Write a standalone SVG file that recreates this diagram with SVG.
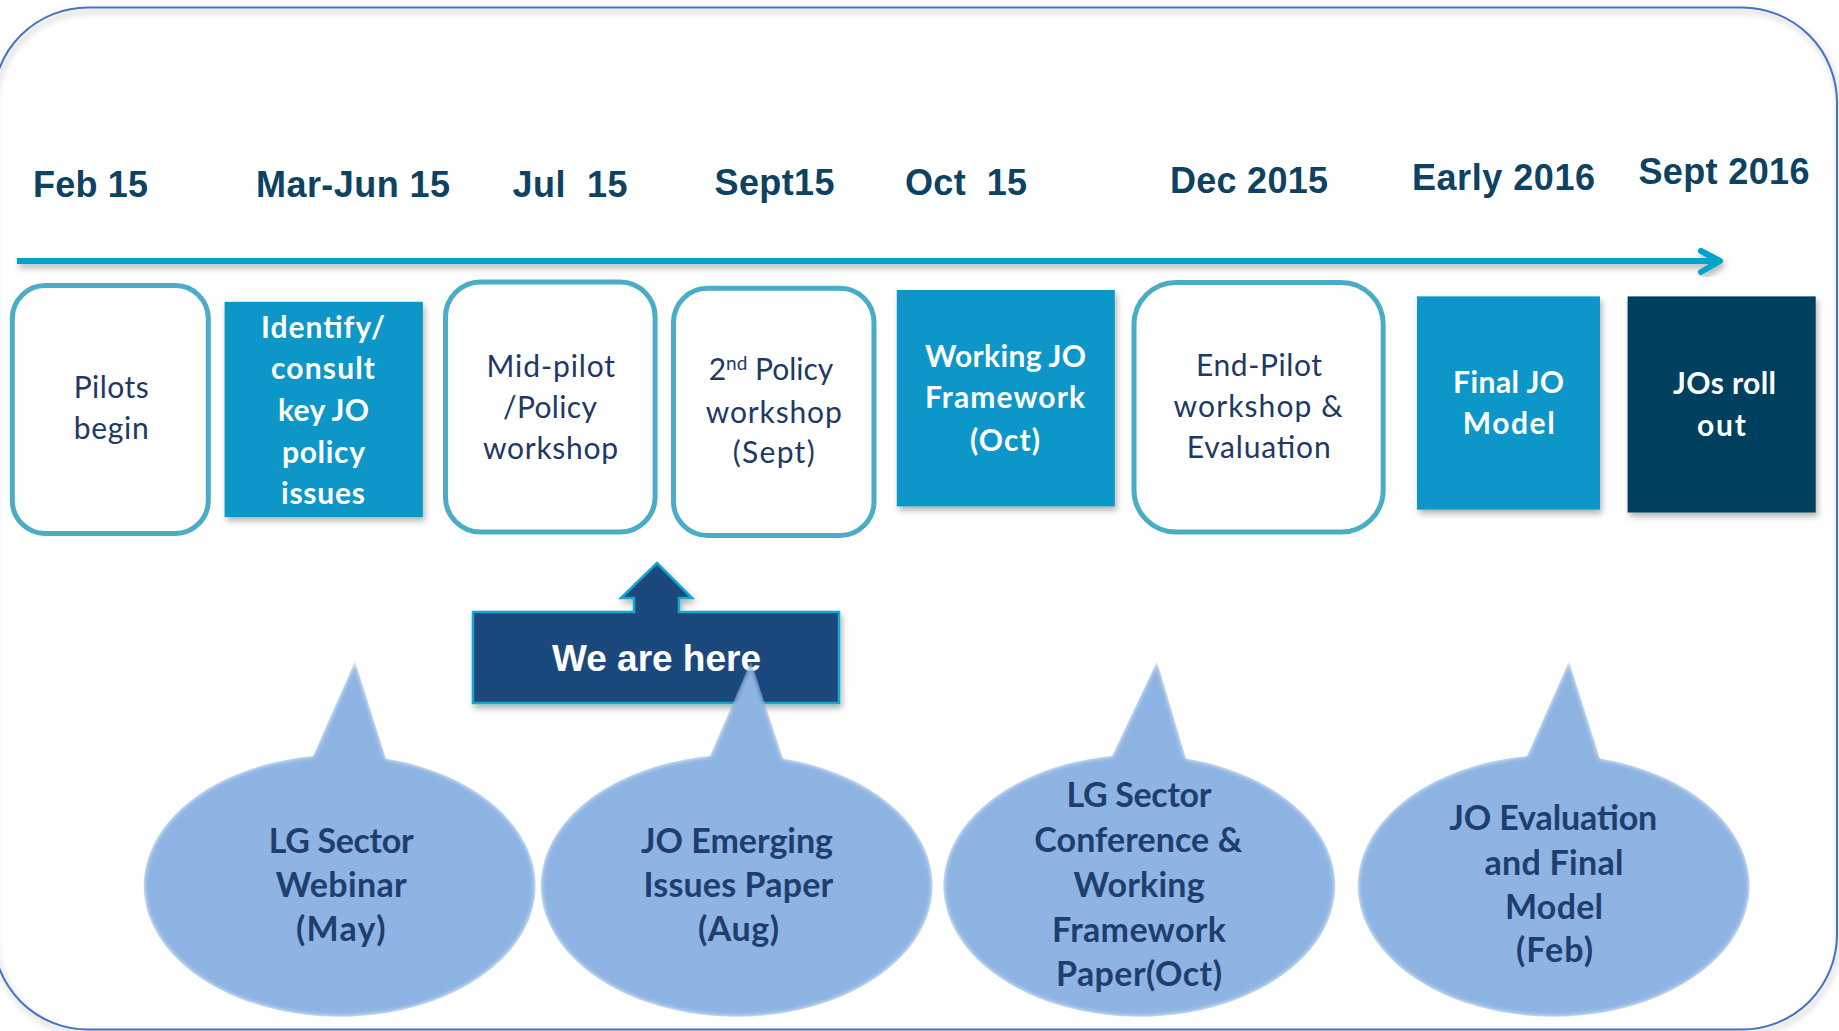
<svg xmlns="http://www.w3.org/2000/svg" width="1839" height="1031" viewBox="0 0 1839 1031">
<style>
.date{font-family:"Liberation Sans",Arial,sans-serif;font-weight:bold;font-size:36px;fill:#0D4263;white-space:pre}
.box{fill:#fff;stroke:#4BACC6;stroke-width:5}
.fill{fill:#0897C8}
.dark{fill:#02415F}
.t{font-family:Lato,"Open Sans",sans-serif;font-size:30px;fill:#203864}
.tw{font-family:Lato,"Open Sans",sans-serif;font-size:30px;font-weight:bold;fill:#fff}
.bt{font-family:Lato,"Open Sans",sans-serif;font-size:34px;font-weight:bold;fill:#1E3E6E}
.bub{fill:#8EB4E3}
</style>
<defs>
<filter id="sh" x="-10%" y="-10%" width="125%" height="130%">
<feDropShadow dx="2" dy="4" stdDeviation="3" flood-color="#000" flood-opacity="0.3"/>
</filter>
<filter id="soft" x="-5%" y="-5%" width="110%" height="110%">
<feGaussianBlur in="SourceAlpha" stdDeviation="2.5" result="b"/>
<feComposite in="SourceGraphic" in2="b" operator="in"/>
</filter>
</defs>

<rect id="frame" x="-7" y="7.5" width="1844" height="1022" rx="95" ry="95" fill="none" stroke="#4472C4" stroke-width="2" filter="url(#sh)"/>

<g id="dates">
<text class="date" x="33" y="197" textLength="115">Feb 15</text>
<text class="date" x="256" y="197" textLength="194">Mar-Jun 15</text>
<text class="date" x="512.5" y="197" textLength="115" xml:space="preserve">Jul  15</text>
<text class="date" x="714.5" y="195" textLength="120">Sept15</text>
<text class="date" x="905" y="195" textLength="122" xml:space="preserve">Oct  15</text>
<text class="date" x="1170" y="193" textLength="158">Dec 2015</text>
<text class="date" x="1412" y="189.5" textLength="183">Early 2016</text>
<text class="date" x="1638.5" y="184" textLength="171">Sept 2016</text>
</g>

<g id="connectors" filter="url(#sh)" stroke="#05A3C9" stroke-width="6" fill="none" stroke-linecap="round" stroke-linejoin="round">
<line x1="17" y1="261" x2="1717" y2="261" stroke-linecap="butt"/>
<polyline points="1701,251 1720,261 1701,272"/>
</g>

<g id="n1">
<rect class="box" x="12.3" y="285.5" width="196" height="248" rx="33"/>
<text class="t" x="73.7" y="398" textLength="75">Pilots</text>
<text class="t" x="73.7" y="439" textLength="75">begin</text>
</g>

<g id="n2">
<rect class="fill" x="224.6" y="301.8" width="198.2" height="215.2" filter="url(#sh)"/>
<text class="tw" x="261" y="337.5" textLength="124">Identify/</text>
<text class="tw" x="271" y="379" textLength="104">consult</text>
<text class="tw" x="278" y="420.7" textLength="91">key JO</text>
<text class="tw" x="282" y="462.5" textLength="83">policy</text>
<text class="tw" x="281" y="503.6" textLength="84">issues</text>
</g>

<g id="n3">
<rect class="box" x="445.5" y="282" width="209.6" height="250" rx="35"/>
<text class="t" x="486.6" y="377" textLength="128.5">Mid-pilot</text>
<text class="t" x="503" y="418" textLength="94">/Policy</text>
<text class="t" x="483" y="459" textLength="135">workshop</text>
</g>

<g id="n4">
<rect class="box" x="673.5" y="288.2" width="200.5" height="247.3" rx="34"/>
<text class="t" x="708.7" y="380">2<tspan font-size="19" dy="-10">nd</tspan><tspan dy="10"> Policy</tspan></text>
<text class="t" x="705.8" y="423" textLength="136">workshop</text>
<text class="t" x="732.7" y="462.5" textLength="82">(Sept)</text>
</g>

<g id="n5">
<rect class="fill" x="896.8" y="290" width="218" height="216.4" filter="url(#sh)"/>
<text class="tw" x="925" y="367" textLength="161">Working JO</text>
<text class="tw" x="925" y="408" textLength="160">Framework</text>
<text class="tw" x="970" y="450.7" textLength="70">(Oct)</text>
</g>

<g id="n6">
<rect class="box" x="1134" y="282.5" width="249.2" height="249.6" rx="42"/>
<text class="t" x="1196" y="375.7" textLength="126">End-Pilot</text>
<text class="t" x="1173.6" y="417" textLength="169">workshop &amp;</text>
<text class="t" x="1186.7" y="458" textLength="144">Evaluation</text>
</g>

<g id="n7">
<rect class="fill" x="1417" y="296.4" width="183" height="213.2" filter="url(#sh)"/>
<text class="tw" x="1453" y="393" textLength="111">Final JO</text>
<text class="tw" x="1462.7" y="434" textLength="92">Model</text>
</g>

<g id="n8">
<rect class="dark" x="1627.6" y="296.4" width="188.1" height="216.1" filter="url(#sh)"/>
<text class="tw" x="1673" y="394" textLength="103">JOs roll</text>
<text class="tw" x="1697" y="435.7" textLength="49">out</text>
</g>

<g id="here">
<path d="M473 612 H634 V598 H621 L657 563 L692 598 H679 V612 H839 V703 H473 Z" fill="#1F497D" stroke="#12A6CF" stroke-width="2.5" filter="url(#sh)"/>
<text x="552" y="670.7" textLength="209" style="font-family:'Liberation Sans',Arial,sans-serif;font-weight:bold;font-size:37px;fill:#fff">We are here</text>
</g>

<g id="b1">
<path class="bub" filter="url(#soft)" d="M313 756 L355 661 L386 758.5 A196 131 0 1 1 313 756 Z"/>
<text class="bt" x="268.7" y="853" textLength="145">LG Sector</text>
<text class="bt" x="275.8" y="897" textLength="131">Webinar</text>
<text class="bt" x="296" y="941" textLength="89.5">(May)</text>
</g>

<g id="b2">
<path class="bub" filter="url(#soft)" d="M710 756 L751 661 L783 758.5 A196 131 0 1 1 710 756 Z"/>
<text class="bt" x="641" y="853" textLength="192">JO Emerging</text>
<text class="bt" x="643.6" y="897" textLength="189.5">Issues Paper</text>
<text class="bt" x="698" y="941" textLength="81">(Aug)</text>
</g>

<g id="b3">
<path class="bub" filter="url(#soft)" d="M1112 756 L1157 661 L1186 758.5 A196 131 0 1 1 1112 756 Z"/>
<text class="bt" x="1066.5" y="807" textLength="145">LG Sector</text>
<text class="bt" x="1034.3" y="852" textLength="208">Conference &amp;</text>
<text class="bt" x="1073.6" y="897" textLength="131">Working</text>
<text class="bt" x="1052" y="942" textLength="174">Framework</text>
<text class="bt" x="1056" y="986" textLength="166">Paper(Oct)</text>
</g>

<g id="b4">
<path class="bub" filter="url(#soft)" d="M1527 756 L1569 661 L1600 758.5 A196 131 0 1 1 1527 756 Z"/>
<text class="bt" x="1449.3" y="830" textLength="208">JO Evaluation</text>
<text class="bt" x="1484.4" y="875" textLength="139">and Final</text>
<text class="bt" x="1505" y="919" textLength="98">Model</text>
<text class="bt" x="1516" y="962" textLength="77">(Feb)</text>
</g>
</svg>
